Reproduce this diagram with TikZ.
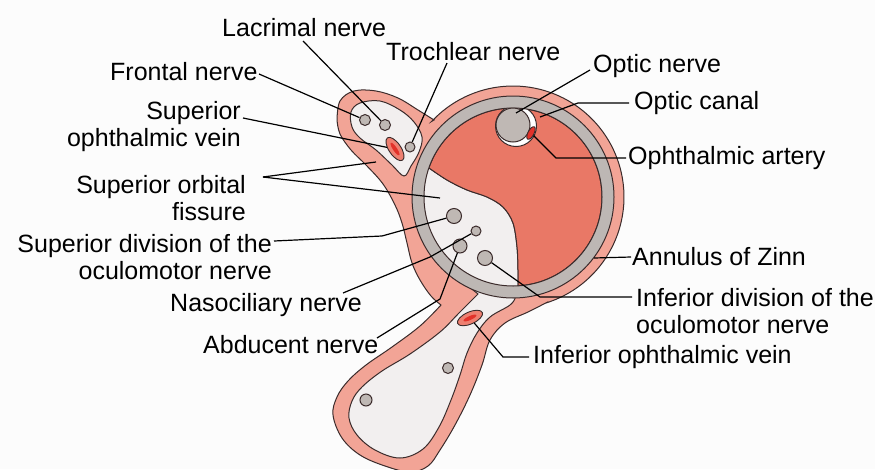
\documentclass[tikz,border=0pt]{standalone}
\usepackage{fontspec}
\setmainfont{Liberation Sans}
\usetikzlibrary{shapes.geometric}
\definecolor{edge}{HTML}{3B2B2B}
\definecolor{bandpink}{HTML}{F2A496}
\definecolor{coral}{HTML}{E97866}
\definecolor{pale}{HTML}{F2EFEF}
\definecolor{ringgray}{HTML}{BDB7B4}
\definecolor{nervegray}{HTML}{BFB8B4}
\definecolor{bloodred}{HTML}{E2322A}
\definecolor{veinpink}{HTML}{EE7F70}
\definecolor{paper}{HTML}{FCFCFC}
\begin{document}
\begin{tikzpicture}[x=1pt,y=-1pt,
  outline/.style={draw=edge, line width=1pt},
  lead/.style={draw=black, line width=1.2pt},
  lbl/.style={font=\fontsize{25}{27}\selectfont, inner sep=0pt, text=black},
  nerve/.style={circle, draw=edge, fill=nervegray, line width=1pt, inner sep=0pt},
  vessel/.style={ellipse, draw=edge, line width=0.9pt, inner sep=0pt, fill=veinpink},
  core/.style={ellipse, fill=bloodred, inner sep=0pt, draw=none}]
\useasboundingbox (0,0) rectangle (875,469);
\fill[paper] (0,0) rectangle (875,469);

% pink border of the fissure merged with the disc around the annulus
\filldraw[fill=bandpink, outline]
  plot[smooth, tension=0.6] coordinates {(337,120) (340,101) (354,91) (376,91) (398,98) (418,110) (434,120)}
  -- plot[domain=223:433, samples=80] ({513+111*cos(\x)},{197+111*sin(\x)})
  -- plot[smooth, tension=0.6] coordinates {(545.5,303.1) (528,312) (505,323) (490,340) (482,365) (470,395) (455,425) (440,450) (428,466) (410,472) (385,466) (360,455) (342,438) (333,415) (337,397) (348,381) (366,365) (392,347) (420,326) (441,305)}
  -- plot[smooth, tension=0.6] coordinates {(441,305) (431,296) (420,280) (412,263) (407,243) (402,223) (395,205) (383,184) (367,166) (351,150) (340,134) (337,120)}
  -- cycle;

% pale inside of the upper lobe
\filldraw[fill=pale, outline]
  plot[smooth cycle, tension=0.6] coordinates {(351,112) (360,103) (380,101) (400,110) (414,122) (422,137) (419,152) (411,166) (404,176) (392,165) (376,150) (360,138) (352,127)};

% pale inside of the fissure below and within the annulus
\filldraw[fill=pale, outline]
  plot[smooth, tension=0.55] coordinates {(429,168) (447,180) (467,190) (487,197) (503,207) (513,223) (517,247) (518,270) (518,286)}
  -- plot[smooth, tension=0.6] coordinates {(518,286) (516,296) (510,305) (490,317) (477,333) (467,353) (460,375) (451,400) (439,427) (423,449) (400,458) (375,450) (357,435) (349,418) (352,401) (362,387) (382,371) (410,354) (440,332) (458,314) (470,302) (478,294)}
  -- (468,286) -- (440,262) -- (420,230) -- (414,200) -- (420,175) -- cycle;

% coral field inside the annulus
\filldraw[fill=coral, outline]
  plot[smooth, tension=0.55] coordinates {(429,168) (447,180) (467,190) (487,197) (503,207) (513,223) (517,247) (518,270) (518,286)}
  -- plot[domain=86.8:-161, samples=90] ({513+89*cos(\x)},{197+89*sin(\x)}) -- cycle;

% optic canal
\filldraw[fill=white, outline] (516,126) circle[radius=20.5];

% annulus of Zinn
\fill[ringgray, even odd rule] (513,197) circle[radius=101] (513,197) circle[radius=89];
\draw[outline] (513,197) circle[radius=101];
\draw[outline] (513,197) circle[radius=89];

% nerves and vessels
\node[nerve, minimum size=34pt] (optic) at (513,125) {};
\node[vessel, fill=bloodred, minimum width=14pt, minimum height=6pt, rotate=62] (artery) at (531,133) {};
\node[nerve, minimum size=11pt] (frontal) at (365,120) {};
\node[nerve, minimum size=11pt] (lacrimal) at (385,125) {};
\node[nerve, minimum size=10pt] (trochlear) at (410,147) {};
\node[vessel, minimum width=27pt, minimum height=12pt, rotate=-56] (supvein) at (395,149) {};
\node[core, minimum width=15pt, minimum height=4pt, rotate=-56] at (395,149) {};
\node[nerve, minimum size=15pt] (supdiv) at (454,216) {};
\node[nerve, minimum size=10pt] (naso) at (476,231) {};
\node[nerve, minimum size=14pt] (abd) at (460,246) {};
\node[nerve, minimum size=15pt] (infdiv) at (485,258) {};
\node[vessel, minimum width=27pt, minimum height=12pt, rotate=24] (infvein) at (470,318) {};
\node[core, minimum width=14pt, minimum height=4pt, rotate=24] at (470,318) {};
\node[nerve, minimum size=11pt] (stemA) at (448,368) {};
\node[nerve, minimum size=12pt] (stemB) at (366,400) {};

% labels
\node[lbl, anchor=west] (tLac) at (222,28) {Lacrimal nerve};
\node[lbl, anchor=west] (tTro) at (386,52) {Trochlear nerve};
\node[lbl, anchor=west] (tFro) at (110,72) {Frontal nerve};
\node[lbl, anchor=west] (tOpN) at (593,66) {Optic nerve};
\node[lbl, anchor=west] (tOpC) at (634,103) {Optic canal};
\node[lbl, anchor=east, align=right] (tSov) at (241,127) {Superior\\ophthalmic vein};
\node[lbl, anchor=west] (tArt) at (628,158) {Ophthalmic artery};
\node[lbl, anchor=east, align=right] (tSof) at (246,198) {Superior orbital\\fissure};
\node[lbl, anchor=east, align=right] (tSdv) at (272,257) {Superior division of the\\oculomotor nerve};
\node[lbl, anchor=west] (tAnn) at (632,257) {Annulus of Zinn};
\node[lbl, anchor=west] (tNas) at (170,305) {Nasociliary nerve};
\node[lbl, anchor=west, align=left] (tIdv) at (636,311) {Inferior division of the\\oculomotor nerve};
\node[lbl, anchor=west] (tAbd) at (203,345) {Abducent nerve};
\node[lbl, anchor=west] (tIvn) at (533,357) {Inferior ophthalmic vein};

% leader ends and bends
\coordinate (lacS) at (303,41);
\coordinate (froS) at (259,74);
\coordinate (troS) at (447,63);
\coordinate (sovS) at (243,118);
\coordinate (sofS) at (263,177);
\coordinate (sofA) at (376,162);
\coordinate (sofB) at (440,198);
\coordinate (sdvS) at (274,241);
\coordinate (sdvK) at (382,236);
\coordinate (nasS) at (343,293);
\coordinate (nasK) at (430,257);
\coordinate (abdS) at (377,338);
\coordinate (abdK) at (440,299);
\coordinate (opnS) at (590,70);
\coordinate (opnE) at (516,113);
\coordinate (opcS) at (629,103);
\coordinate (opcK) at (578,103);
\coordinate (opcE) at (540,117);
\coordinate (artS) at (626,158);
\coordinate (artK) at (556,158);
\coordinate (annS) at (631,257);
\coordinate (annE) at (594,258);
\coordinate (idvS) at (632,297);
\coordinate (idvK) at (540,297);
\coordinate (ivnS) at (529,357);
\coordinate (ivnK) at (503,357);

\draw[lead] (lacS) -- (lacrimal);
\draw[lead] (froS) -- (frontal);
\draw[lead] (troS) -- (trochlear);
\draw[lead] (sovS) -- (supvein);
\draw[lead] (sofS) -- (sofA);
\draw[lead] (sofS) -- (sofB);
\draw[lead] (sdvS) -- (sdvK) -- (supdiv);
\draw[lead] (nasS) -- (nasK) -- (naso);
\draw[lead] (abdS) -- (abdK) -- (abd);
\draw[lead] (opnS) -- (opnE);
\draw[lead] (opcS) -- (opcK) -- (opcE);
\draw[lead] (artS) -- (artK) -- (artery);
\draw[lead] (annS) -- (annE);
\draw[lead] (idvS) -- (idvK) -- (infdiv);
\draw[lead] (ivnS) -- (ivnK) -- (infvein);
\end{tikzpicture}
\end{document}
